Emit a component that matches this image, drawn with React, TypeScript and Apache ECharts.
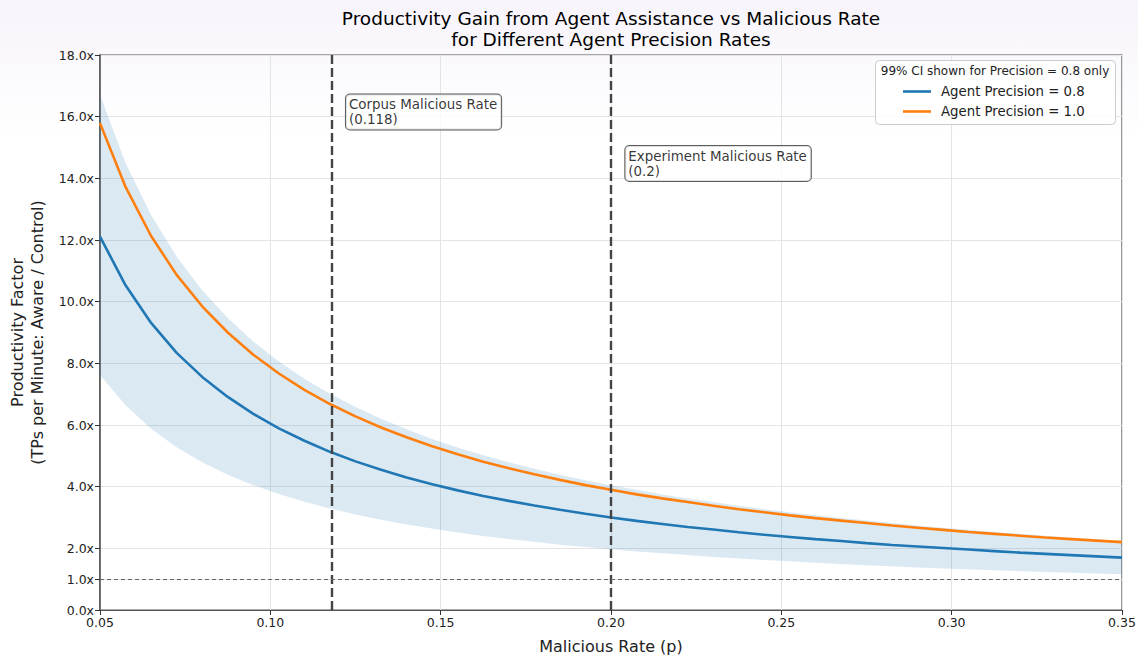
import React, { useEffect, useRef } from "react";
import * as echarts from "echarts";

// Malicious rate sample points (p)
const rates = [
  0.05, 0.0575, 0.065, 0.0725, 0.08, 0.0875, 0.095, 0.1025, 0.11, 0.1175,
  0.125, 0.1325, 0.14, 0.1475, 0.155, 0.1625, 0.17, 0.1775, 0.185, 0.1925,
  0.2, 0.2075, 0.215, 0.2225, 0.23, 0.2375, 0.245, 0.2525, 0.26, 0.2675,
  0.275, 0.2825, 0.29, 0.2975, 0.305, 0.3125, 0.32, 0.3275, 0.335, 0.3425,
  0.35,
];

// Agent Precision = 0.8
const precision08 = [
  12.11, 10.53, 9.31, 8.34, 7.56, 6.91, 6.36, 5.89, 5.49, 5.13,
  4.82, 4.55, 4.30, 4.08, 3.88, 3.70, 3.54, 3.39, 3.25, 3.12,
  3.00, 2.89, 2.79, 2.69, 2.61, 2.52, 2.44, 2.37, 2.30, 2.24,
  2.17, 2.11, 2.06, 2.01, 1.96, 1.91, 1.86, 1.82, 1.78, 1.74,
  1.70,
];

// Agent Precision = 1.0
const precision10 = [
  15.79, 13.72, 12.13, 10.87, 9.85, 9.00, 8.28, 7.67, 7.14, 6.68,
  6.28, 5.92, 5.60, 5.31, 5.05, 4.81, 4.60, 4.40, 4.22, 4.05,
  3.90, 3.75, 3.62, 3.50, 3.38, 3.27, 3.17, 3.07, 2.98, 2.90,
  2.82, 2.74, 2.67, 2.60, 2.53, 2.47, 2.41, 2.35, 2.30, 2.25,
  2.20,
];

// 99% CI for precision 0.8
const ciLower = [
  7.62, 6.64, 5.88, 5.28, 4.79, 4.39, 4.05, 3.76, 3.51, 3.29,
  3.10, 2.93, 2.77, 2.64, 2.51, 2.40, 2.30, 2.21, 2.12, 2.04,
  1.97, 1.90, 1.84, 1.78, 1.72, 1.67, 1.62, 1.58, 1.53, 1.49,
  1.45, 1.42, 1.38, 1.35, 1.32, 1.29, 1.26, 1.23, 1.21, 1.18,
  1.16,
];
const ciUpper = [
  16.70, 14.50, 12.81, 11.46, 10.37, 9.47, 8.71, 8.06, 7.50, 7.01,
  6.58, 6.20, 5.86, 5.55, 5.27, 5.02, 4.79, 4.58, 4.39, 4.21,
  4.05, 3.90, 3.75, 3.62, 3.50, 3.38, 3.27, 3.17, 3.07, 2.98,
  2.90, 2.82, 2.74, 2.67, 2.60, 2.53, 2.47, 2.41, 2.35, 2.29,
  2.24,
];

// Reference lines
const refRates = [0.118, 0.2];
const refLabels = ["Corpus Malicious Rate\n(0.118)", "Experiment Malicious Rate\n(0.2)"];
const refLabelLevels = [16.72, 15.05];
const baselineFactor = 1;

// Tick labels
const yTicks = [0, 1, 2, 4, 6, 8, 10, 12, 14, 16, 18];
const xTicks = [0.05, 0.1, 0.15, 0.2, 0.25, 0.3, 0.35];

const legendNames = ["Agent Precision = 0.8", "Agent Precision = 1.0"];
const legendTitle = "99% CI shown for Precision = 0.8 only";
const titleText = "Productivity Gain from Agent Assistance vs Malicious Rate\nfor Different Agent Precision Rates";

const FONT = "DejaVu Sans";

export default function App() {
  const ref = useRef<HTMLDivElement>(null);

  useEffect(() => {
    document.body.style.margin = "0";
    const chart = echarts.init(ref.current!, null, { renderer: "svg" });

    const pair = (ys: number[]) => rates.map((x, i) => [x, ys[i]]);

    const option: any = {
      animation: false,
      textStyle: { fontFamily: FONT },
      grid: {
        left: 100,
        right: 16,
        top: 55,
        bottom: 50,
        outerBoundsMode: "none",
        containLabel: false,
        show: true,
        borderColor: "#555",
        borderWidth: 1.2,
        backgroundColor: "transparent",
      },
      graphic: [
        {
          type: "rect",
          z: -10,
          silent: true,
          shape: { x: 0, y: 0, width: 1138, height: 140 },
          style: {
            fill: new echarts.graphic.LinearGradient(0, 0, 0, 1, [
              { offset: 0, color: "#f7f4fb" },
              { offset: 1, color: "#ffffff" },
            ]),
          },
        },
        {
          type: "text",
          x: 611,
          y: 8,
          z: 10,
          style: {
            text: titleText,
            textAlign: "center",
            fontFamily: FONT,
            fontSize: 18.5,
            lineHeight: 21,
            fill: "#000",
          },
        },
        {
          type: "rect",
          z: 50,
          shape: { x: 875.5, y: 60.5, width: 240, height: 64, r: 4 },
          style: { fill: "rgba(255,255,255,0.85)", stroke: "#cccccc", lineWidth: 1 },
        },
        {
          type: "text",
          x: 995,
          y: 65,
          z: 51,
          style: {
            text: legendTitle,
            textAlign: "center",
            fontFamily: FONT,
            fontSize: 12,
            fill: "#222",
          },
        },
      ],
      legend: {
        data: legendNames,
        orient: "vertical",
        left: 903,
        top: 85,
        z: 60,
        icon: "rect",
        itemWidth: 28,
        itemHeight: 2.6,
        itemGap: 7,
        padding: 0,
        textStyle: { fontFamily: FONT, fontSize: 13.3, color: "#222", padding: [0, 0, 0, 5] },
      },
      xAxis: {
        type: "value",
        min: 0.05,
        max: 0.35,
        interval: 0.05,
        name: "Malicious Rate (p)",
        nameLocation: "middle",
        nameGap: 28,
        nameTextStyle: { fontFamily: FONT, fontSize: 16, color: "#222" },
        axisLine: { show: true, lineStyle: { color: "#555", width: 1.2 } },
        axisTick: { show: true, length: 5, lineStyle: { color: "#333" } },
        axisLabel: {
          fontFamily: FONT,
          fontSize: 12.5,
          color: "#222",
          margin: 6,
          customValues: xTicks,
          formatter: (v: number) => v.toFixed(2),
        },
        splitLine: { show: true, lineStyle: { color: "#e4e4e4", width: 1 } },
      },
      yAxis: {
        type: "value",
        min: 0,
        max: 18,
        interval: 2,
        name: "Productivity Factor\n(TPs per Minute: Aware / Control)",
        nameLocation: "middle",
        nameGap: 52,
        nameRotate: 90,
        nameTextStyle: { fontFamily: FONT, fontSize: 16, lineHeight: 20, color: "#222" },
        axisLine: { show: true, lineStyle: { color: "#555", width: 1.6 } },
        axisTick: { show: true, length: 5, lineStyle: { color: "#333" }, customValues: yTicks },
        axisLabel: {
          fontFamily: FONT,
          fontSize: 12.5,
          color: "#222",
          margin: 6,
          customValues: yTicks,
          formatter: (v: number) => v.toFixed(1) + "x",
        },
        splitLine: { show: true, lineStyle: { color: "#e4e4e4", width: 1 } },
      },
      series: [
        {
          name: "ciBand",
          type: "custom",
          silent: true,
          clip: true,
          z: 1,
          data: rates.map((x, i) => [x, ciLower[i], ciUpper[i]]),
          encode: { x: 0, y: [1, 2] },
          renderItem: (params: any, api: any) => {
            if (params.dataIndex !== 0) return null;
            const pts: number[][] = [];
            for (let i = 0; i < rates.length; i++) pts.push(api.coord([rates[i], ciUpper[i]]));
            for (let i = rates.length - 1; i >= 0; i--) pts.push(api.coord([rates[i], ciLower[i]]));
            return {
              type: "polygon",
              shape: { points: pts },
              style: { fill: "rgba(31,119,180,0.16)", stroke: "none" },
            };
          },
        },
        {
          name: legendNames[0],
          type: "line",
          data: pair(precision08),
          symbol: "none",
          color: "#1f77b4",
          lineStyle: { color: "#1f77b4", width: 2.6 },
          z: 3,
        },
        {
          name: legendNames[1],
          type: "line",
          data: pair(precision10),
          symbol: "none",
          color: "#ff7f0e",
          lineStyle: { color: "#ff7f0e", width: 2.6 },
          z: 3,
        },
        {
          name: "refs",
          type: "line",
          data: [],
          z: 4,
          markLine: {
            silent: true,
            precision: 6,
            symbol: ["none", "none"],
            label: { show: false },
            data: [
              ...refRates.map((r) => ({
                xAxis: r,
                lineStyle: { color: "#444", width: 2.4, type: [9, 4] },
              })),
              {
                yAxis: baselineFactor,
                lineStyle: { color: "#666", width: 1, type: [4, 3] },
              },
            ],
          },
        },
        {
          name: "annotations",
          type: "scatter",
          symbolSize: 0,
          z: 6,
          silent: true,
          data: refRates.map((r, i) => ({
            value: [r + 0.0042, refLabelLevels[i]],
            name: refLabels[i],
          })),
          label: {
            show: true,
            position: [0, 0],
            align: "left",
            verticalAlign: "top",
            formatter: (p: any) => p.name,
            fontFamily: FONT,
            fontSize: 13.4,
            lineHeight: 15,
            color: "#000",
            backgroundColor: "#fff",
            borderColor: "#333",
            borderWidth: 1,
            borderRadius: 4,
            padding: [3, 4, 2, 3],
          },
        },
      ],
    };

    chart.setOption(option);
    return () => chart.dispose();
  }, []);

  return (
    <div
      ref={ref}
      style={{ width: 1138, height: 660, position: "absolute", left: 0, top: 0 }}
    />
  );
}
